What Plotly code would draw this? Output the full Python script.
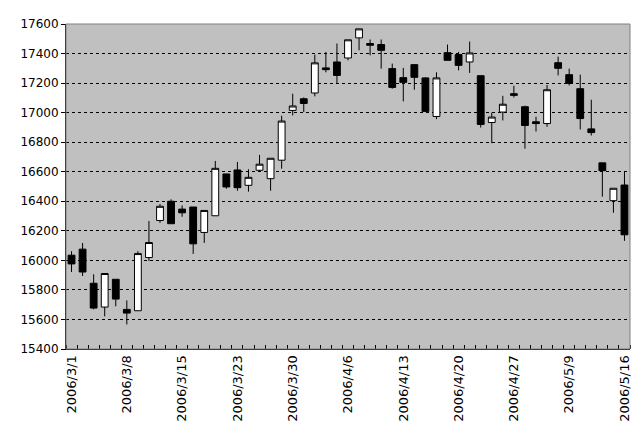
import plotly.graph_objects as go

dates = ["2006/3/1", "2006/3/2", "2006/3/3", "2006/3/6", "2006/3/7", "2006/3/8", "2006/3/9",
         "2006/3/10", "2006/3/13", "2006/3/14", "2006/3/15", "2006/3/16", "2006/3/17",
         "2006/3/20", "2006/3/22", "2006/3/23", "2006/3/24", "2006/3/27", "2006/3/28",
         "2006/3/29", "2006/3/30", "2006/3/31", "2006/4/3", "2006/4/4", "2006/4/5",
         "2006/4/6", "2006/4/7", "2006/4/10", "2006/4/11", "2006/4/12", "2006/4/13",
         "2006/4/14", "2006/4/17", "2006/4/18", "2006/4/19", "2006/4/20", "2006/4/21",
         "2006/4/24", "2006/4/25", "2006/4/26", "2006/4/27", "2006/4/28", "2006/5/1",
         "2006/5/2", "2006/5/8", "2006/5/9", "2006/5/10", "2006/5/11", "2006/5/12",
         "2006/5/15", "2006/5/16"]

open_ = [16035, 16076, 15845, 15684, 15872, 15668, 15659, 16019, 16270, 16400,
         16347, 16361, 16189, 16302, 16585, 16612, 16508, 16610, 16553, 16678,
         17015, 17094, 17133, 17303, 17343, 17370, 17506, 17468, 17461, 17298,
         17237, 17325, 17235, 16974, 17406, 17393, 17343, 17250, 16933, 17004,
         17128, 17040, 16938, 16926, 17338, 17257, 17162, 16890, 16660, 16404,
         16510]
high = [16062, 16118, 15906, 15911, 15872, 15729, 16062, 16266, 16381, 16413,
        16372, 16361, 16338, 16673, 16585, 16666, 16617, 16714, 16691, 16979,
        17128, 17103, 17393, 17411, 17468, 17493, 17567, 17495, 17495, 17332,
        17303, 17325, 17240, 17273, 17461, 17411, 17481, 17250, 17000, 17114,
        17182, 17047, 16972, 17187, 17379, 17298, 17257, 17087, 16660, 16488,
        16600]
low = [15921, 15894, 15668, 15621, 15689, 15566, 15659, 15996, 16254, 16248,
       16295, 16044, 16118, 16302, 16485, 16471, 16465, 16605, 16471, 16621,
       16981, 17004, 17110, 17273, 17194, 17354, 17422, 17388, 17298, 17162,
       17076, 17155, 17008, 16956, 17354, 17286, 17269, 16899, 16793, 16947,
       17103, 16756, 16872, 16904, 17252, 17184, 16886, 16845, 16431, 16322,
       16132]
close = [15976, 15921, 15677, 15911, 15738, 15643, 16046, 16121, 16366, 16248,
         16322, 16112, 16338, 16623, 16497, 16492, 16562, 16651, 16691, 16943,
         17045, 17062, 17337, 17291, 17252, 17493, 17567, 17456, 17422, 17171,
         17205, 17239, 17008, 17235, 17354, 17320, 17404, 16920, 16970, 17057,
         17117, 16913, 16926, 17155, 17300, 17198, 16960, 16865, 16607, 16488,
         16173]

y_ticks = list(range(15400, 17601, 200))
y_tick_labels = [str(v) for v in y_ticks]

x_idx = list(range(len(dates)))

fig = go.Figure(go.Candlestick(
    x=x_idx, open=open_, high=high, low=low, close=close,
    increasing=dict(fillcolor="white", line=dict(color="black", width=1)),
    decreasing=dict(fillcolor="black", line=dict(color="black", width=1)),
    whiskerwidth=0,
    showlegend=False,
))

fig.update_layout(
    width=626, height=429,
    margin=dict(l=58, r=2, t=16, b=88),
    paper_bgcolor="white",
    plot_bgcolor="#C0C0C0",
    font=dict(family="DejaVu Sans", size=12, color="black"),
    boxgap=0.12,
    shapes=[dict(type="rect", xref="x domain", yref="y domain", x0=0, x1=1, y0=0, y1=1,
                 line=dict(color="#808080", width=1), fillcolor="rgba(0,0,0,0)", layer="above")],
)

fig.update_xaxes(
    range=[-0.5, len(dates) - 0.5],
    tickmode="array", tickvals=x_idx[::5], ticktext=dates[::5],
    tickangle=-90, ticks="", showgrid=False, zeroline=False,
    showline=True, linecolor="black", linewidth=1,
    tickfont=dict(size=13),
    rangeslider=dict(visible=False),
    minor=dict(tickmode="linear", tick0=-0.5, dtick=1, ticks="inside",
               ticklen=4, tickcolor="black", tickwidth=1, showgrid=False),
)

fig.update_yaxes(
    range=[15400, 17600],
    tickmode="array", tickvals=y_ticks, ticktext=y_tick_labels,
    ticks="outside", ticklen=4, tickcolor="black",
    showgrid=True, gridcolor="black", gridwidth=1, griddash="3px,3px",
    zeroline=False, showline=True, linecolor="black", linewidth=1,
)

fig.write_html("out.html")
